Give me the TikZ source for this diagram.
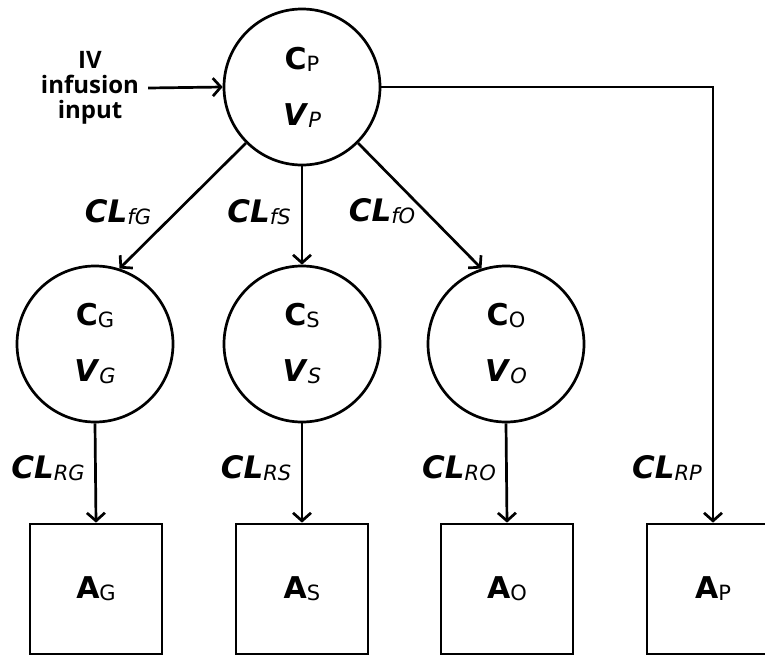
\documentclass[tikz,border=0pt]{standalone}
\usepackage{fontspec}
\setmainfont{Open Sans}
\newfontfamily\dvs{DejaVu Sans}
\usetikzlibrary{arrows.meta}
\newcommand\usub[1]{\raisebox{-2pt}{\mdseries\upshape\fontsize{21}{21}\selectfont #1}}
\newcommand\isub[1]{\raisebox{-2pt}{\mdseries\itshape\fontsize{21}{21}\selectfont #1}}
\begin{document}
\begin{tikzpicture}[x=1pt,y=-1pt,
  comp/.style={circle, draw, line width=2.7pt, minimum size=156pt, inner sep=0pt, align=center, font=\dvs\bfseries\fontsize{30}{56}\selectfont},
  amt/.style={rectangle, draw, line width=2.7pt, minimum width=132pt, minimum height=130pt, inner sep=0pt, font=\dvs\bfseries\fontsize{30}{40}\selectfont},
  arr/.style={line width=2.7pt, -{Straight Barb[length=8pt,width=18pt,line width=2.7pt]}},
  lab/.style={inner sep=0pt, font=\dvs\bfseries\itshape\fontsize{31}{40}\selectfont},
]
\useasboundingbox (0,0) rectangle (765,656);
\node[comp] (CP) at (302,87) {C\usub{P}\\\textit{V}\isub{P}};
\node[comp] (CG) at (95,344) {C\usub{G}\\\textit{V}\isub{G}};
\node[comp] (CS) at (302,344) {C\usub{S}\\\textit{V}\isub{S}};
\node[comp] (CO) at (506,344) {C\usub{O}\\\textit{V}\isub{O}};
\node[amt] (AG) at (96,589) {A\usub{G}};
\node[amt] (AS) at (302,589) {A\usub{S}};
\node[amt] (AO) at (507,589) {A\usub{O}};
\node[amt] (AP) at (713,589) {A\usub{P}};
\node[font=\bfseries\fontsize{24}{25}\selectfont, align=center, inner xsep=9pt, inner ysep=0pt] (iv) at (90,88) {IV\\infusion\\input};
\node[lab] (lfG) at (118,212) {CL\isub{fG}};
\node[lab] (lfS) at (259,212) {CL\isub{fS}};
\node[lab] (lfO) at (382,211) {CL\isub{fO}};
\node[lab] (lRG) at (48,468) {CL\isub{RG}};
\node[lab] (lRS) at (256,468) {CL\isub{RS}};
\node[lab] (lRO) at (459,468) {CL\isub{RO}};
\node[lab] (lRP) at (667,468) {CL\isub{RP}};
\draw[arr] (iv.east) -- (CP.west);
\draw[arr] (CP.-135) -- (CG.72);
\draw[arr] (CP.south) -- (CS.north);
\draw[arr] (CP.-45) -- (CO.108);
\draw[arr] (CP.east) -| (AP.north);
\draw[arr] (CG.south) -- (AG.north);
\draw[arr] (CS.south) -- (AS.north);
\draw[arr] (CO.south) -- (AO.north);
\end{tikzpicture}
\end{document}
